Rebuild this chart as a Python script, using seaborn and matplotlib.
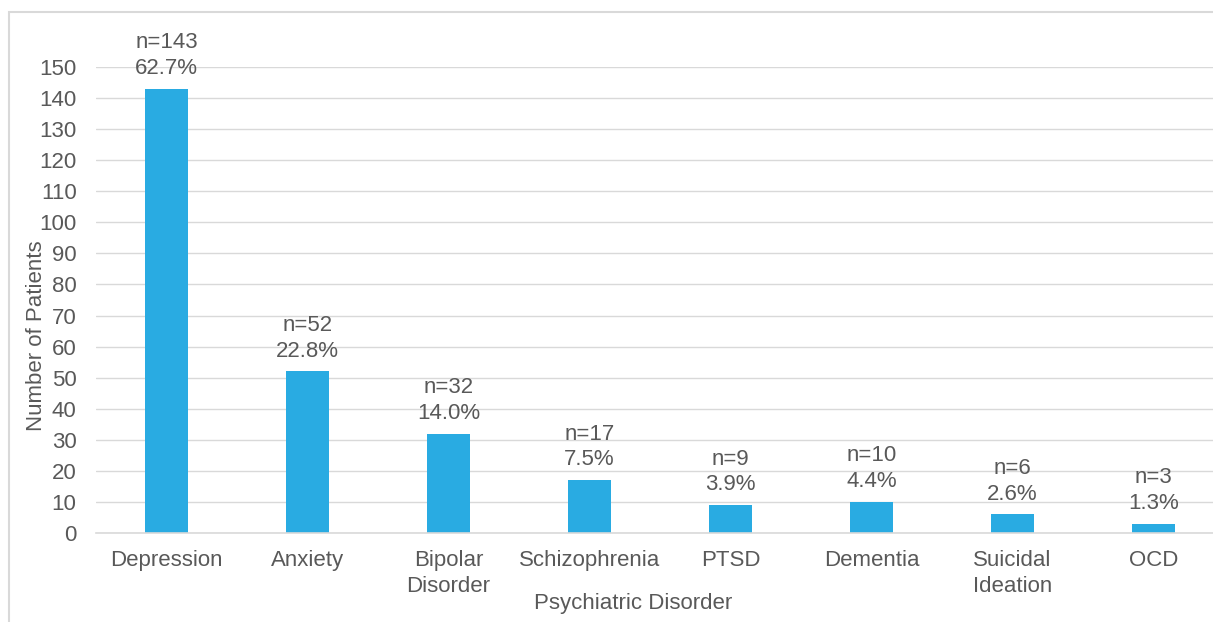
import matplotlib
matplotlib.use("Agg")
import matplotlib.pyplot as plt
import seaborn as sns
import pandas as pd
from matplotlib.patches import Rectangle

# Data
disorders = ["Depression", "Anxiety", "Bipolar\nDisorder", "Schizophrenia",
             "PTSD", "Dementia", "Suicidal\nIdeation", "OCD"]
patients = [143, 52, 32, 17, 9, 10, 6, 3]
percents = ["62.7%", "22.8%", "14.0%", "7.5%", "3.9%", "4.4%", "2.6%", "1.3%"]

df = pd.DataFrame({"disorder": disorders, "n": patients})

sns.set_style("white")
plt.rcParams["font.family"] = ["Liberation Sans", "DejaVu Sans"]
text_gray = "#595959"
grid_gray = "#d9d9d9"
fs = 16

fig = plt.figure(figsize=(12.13, 6.22), dpi=100)
# axes extends a bit past the right edge, like the original
ax = fig.add_axes([96 / 1213, (622 - 533) / 622, 1128 / 1213, 466 / 622])

sns.barplot(data=df, x="disorder", y="n", color="#29abe2", saturation=1,
            width=0.31, linewidth=0, ax=ax)

ax.set_ylim(0, 150)
ax.set_xlim(-0.5, len(disorders) - 0.5)
ax.set_yticks(range(0, 151, 10))
ax.yaxis.grid(True, color=grid_gray, lw=1)
ax.set_axisbelow(True)
for s in ["top", "right", "left"]:
    ax.spines[s].set_visible(False)
ax.spines["bottom"].set_color(grid_gray)
ax.spines["bottom"].set_linewidth(1.2)
ax.tick_params(axis="both", length=0, labelsize=fs, labelcolor=text_gray)
ax.tick_params(axis="x", pad=12)
ax.tick_params(axis="y", pad=14)
for lbl in ax.get_xticklabels():
    lbl.set_linespacing(1.35)

ax.set_xlabel("Psychiatric Disorder", fontsize=fs, color=text_gray)
ax.set_ylabel("Number of Patients", fontsize=fs, color=text_gray)
ax.xaxis.set_label_coords((633 - 96) / 1128, -(603 - 533) / 466, transform=ax.transAxes)
ax.xaxis.label.set_va("center")
ax.yaxis.set_label_coords(-(96 - 37) / 1128, (533 - 336) / 466, transform=ax.transAxes)
ax.yaxis.label.set_va("center")

for i, (n, p) in enumerate(zip(patients, percents)):
    ax.annotate(f"n={n}\n{p}", (i, n), xytext=(0, 7), textcoords="offset points",
                ha="center", va="bottom", fontsize=fs, color=text_gray,
                linespacing=1.3, annotation_clip=False)

# light frame around the chart area
fig.patches.append(Rectangle((9 / 1213, -0.1), 1.2, (622 - 12) / 622 + 0.1,
                             transform=fig.transFigure, fill=False,
                             edgecolor=grid_gray, lw=1.5))

fig.savefig("out.png", dpi=100)
